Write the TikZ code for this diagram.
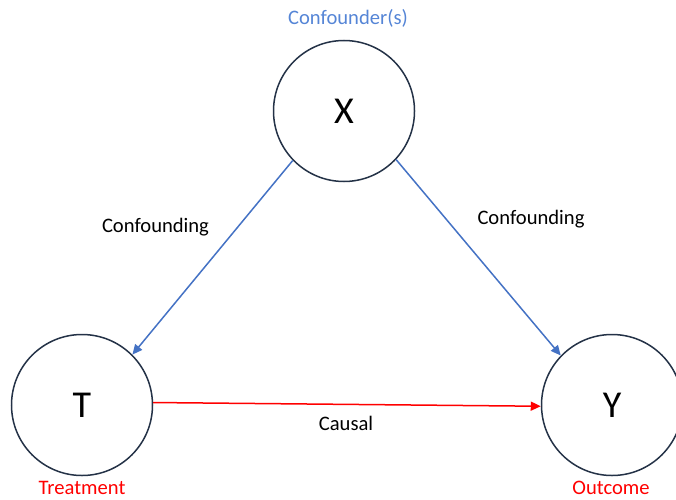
\documentclass[tikz,border=0pt]{standalone}
\usepackage{fontspec}
\setmainfont{Carlito}
\usetikzlibrary{arrows.meta}
\definecolor{ringcol}{HTML}{243247}
\definecolor{confblue}{HTML}{4472C4}
\definecolor{labelblue}{HTML}{5585D6}
\definecolor{causered}{HTML}{FF0000}
\begin{document}
\begin{tikzpicture}[x=1pt,y=1pt,
  var/.style={circle,draw=ringcol,line width=1.5pt,minimum size=141pt,inner sep=0pt,
    font=\fontsize{38}{40}\selectfont},
  lbl/.style={font=\fontsize{20.6}{22}\selectfont,anchor=base,inner sep=0pt},
  conf/.style={draw=confblue,line width=1.5pt,-{Triangle[length=10pt,width=9pt]}},
  cause/.style={draw=causered,line width=1.5pt,-{Triangle[length=10pt,width=9pt]}}]
  \useasboundingbox (0,0) rectangle (676,499);
  % the three variables
  \node[var] (X) at (344,388) {X};
  \node[var] (T) at (82,94) {T};
  \node[var] (Y) at (612,94) {Y};
  % captions
  \node[lbl,text=labelblue] (xcap) at (348,474) {Confounder(s)};
  \node[lbl,text=causered] (tcap) at (82,5) {Treatment};
  \node[lbl,text=causered] (ycap) at (611,5) {Outcome};
  % edges
  \draw[conf] (X.224) -- (T.45);
  \draw[conf] (X.317) -- (Y.136);
  \draw[cause] (T.2) -- (Y.181);
  % edge labels
  \node[lbl] (lconf) at (155.5,267) {Confounding};
  \node[lbl] (rconf) at (531,275) {Confounding};
  \node[lbl] (causal) at (346,69) {Causal};
\end{tikzpicture}
\end{document}
